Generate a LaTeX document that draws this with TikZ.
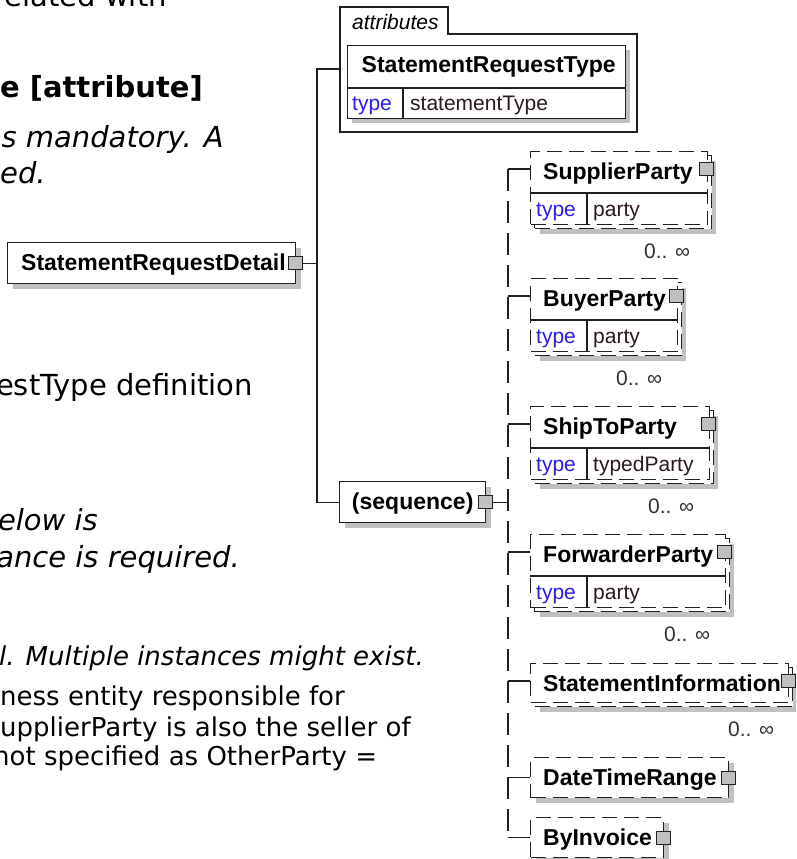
\documentclass[tikz,border=0pt]{standalone}
\usepackage{fontspec}
\newfontfamily\docfont{DejaVu Sans}
\newfontfamily\diafont{Liberation Sans}
\definecolor{boxc}{HTML}{202020}
\definecolor{shadc}{HTML}{C0C0C0}
\definecolor{connc}{HTML}{C0C0C0}
\definecolor{typec}{HTML}{2A1EE8}
\definecolor{valc}{HTML}{2A1A1A}
\definecolor{multc}{HTML}{303030}
\begin{document}
\begin{tikzpicture}[x=1pt,y=-1pt,
  doc/.style={inner sep=0pt, text=black, font=\docfont\fontsize{29}{34}\selectfont},
  docb/.style={inner sep=0pt, text=black, font=\docfont\bfseries\fontsize{29}{34}\selectfont},
  doci/.style={inner sep=0pt, text=black, font=\docfont\itshape\fontsize{29}{34}\selectfont},
  docsm/.style={inner sep=0pt, text=black, font=\docfont\fontsize{26}{31}\selectfont},
  docsmi/.style={inner sep=0pt, text=black, font=\docfont\itshape\fontsize{26}{31}\selectfont},
  sbox/.style={draw=boxc, line width=1.4pt, fill=white, inner sep=0pt, anchor=north west},
  obox/.style={sbox, dash pattern=on 15pt off 7pt},
  shad/.style={fill=shadc},
  sepl/.style={draw=boxc, line width=1.4pt},
  frame/.style={draw=boxc, line width=1.3pt},
  wire/.style={draw=boxc, line width=1.4pt},
  dwire/.style={wire, dash pattern=on 22pt off 10pt},
  nm/.style={inner sep=0pt, text=black, font=\diafont\bfseries\fontsize{23}{27}\selectfont},
  tk/.style={inner sep=0pt, text=typec, font=\diafont\fontsize{21}{25}\selectfont},
  tv/.style={inner sep=0pt, text=valc, font=\diafont\fontsize{21}{25}\selectfont},
  attl/.style={inner sep=0pt, text=black, font=\diafont\itshape\fontsize{21}{25}\selectfont},
  mult/.style={inner sep=0pt, text=multc, font=\diafont\fontsize{21}{25}\selectfont},
  conn/.style={draw=boxc, fill=connc, line width=1.1pt, minimum width=14pt, minimum height=13pt, inner sep=0pt}
]
\useasboundingbox (0,0) rectangle (796,859);
\clip (0,0) rectangle (796,859);

% ---- left documentation text (cut at the left edge) ----
\node[doc, anchor=base east] (t1) at (167,7) {elated with};
\node[docb, anchor=base east] (t2) at (203,97) {e [attribute]};
\node[doci, anchor=base east] (t3) at (224,147) {s mandatory. A};
\node[doci, anchor=base west] (t4) at (0,183) {ed.};
\node[doc, anchor=base east] (t5) at (253,395) {estType definition};
\node[doci, anchor=base east] (t6) at (98,530) {elow is};
\node[doci, anchor=base east] (t7) at (240,567) {ance is required.};
\node[docsmi, anchor=base west] (t8) at (-1,665) {l. Multiple instances might exist.};
\node[docsm, anchor=base west] (t9) at (0,705) {ness entity responsible for};
\node[docsm, anchor=base west] (t10) at (0,736) {upplierParty is also the seller of};
\node[docsm, anchor=base west] (t11) at (-7,765) {not specified as OtherParty =};

% ---- StatementRequestDetail ----
\fill[shad] (13,248) rectangle (301,289);
\node[sbox, minimum width=288pt, minimum height=41pt] (srd) at (7,242) {};
\node[nm, anchor=base west] (srdn) at ([xshift=14pt,yshift=-28pt]srd.north west) {StatementRequestDetail};
\node[conn] (srdc) at ([xshift=-1pt]srd.east) {};

% ---- attributes frame ----
\draw[frame] (340,132) -- (340,7) -- (448,7) -- (448,34) -- (637,34) -- (637,132) -- cycle;
\node[attl, anchor=base west] (attlab) at (352,30) {attributes};
\fill[shad] (352,50) rectangle (630,123);
\node[sbox, minimum width=278pt, minimum height=73pt] (srt) at (347,45) {};
\draw[sepl] ([yshift=-43pt]srt.north west) -- ([yshift=-43pt]srt.north east);
\draw[sepl] ([xshift=56pt,yshift=-43pt]srt.north west) -- ([xshift=56pt]srt.south west);
\node[nm, anchor=base] (srtn) at ([xshift=2pt,yshift=-28pt]srt.north) {StatementRequestType};
\node[tk, anchor=base west] (srtk) at ([xshift=5pt,yshift=9pt]srt.south west) {type};
\node[tv, anchor=base west] (srtv) at ([xshift=63pt,yshift=9pt]srt.south west) {statementType};

% ---- sequence ----
\fill[shad] (345,487) rectangle (491,528);
\node[sbox, minimum width=146pt, minimum height=41pt] (seq) at (339,481) {};
\node[nm, anchor=base] (seqn) at ([yshift=-28pt]seq.north) {(sequence)};
\node[conn] (seqc) at ([xshift=-1pt]seq.east) {};

% ---- SupplierParty ----
\fill[shad] (540,161) rectangle (716,234);
\node[obox, minimum width=177pt, minimum height=73pt] (spb) at (534,155) {};
\node[obox, minimum width=177pt, minimum height=73pt] (sp) at (530,151) {};
\draw[sepl] ([yshift=-42pt]sp.north west) -- ([yshift=-42pt]sp.north east);
\draw[sepl] ([xshift=57pt,yshift=-42pt]sp.north west) -- ([xshift=57pt]sp.south west);
\node[nm, anchor=base west] (spn) at ([xshift=13pt,yshift=-28pt]sp.north west) {SupplierParty};
\node[tk, anchor=base west] (spk) at ([xshift=6pt,yshift=9pt]sp.south west) {type};
\node[tv, anchor=base west] (spv) at ([xshift=63pt,yshift=9pt]sp.south west) {party};
\node[conn] (spc) at ([xshift=-2pt,yshift=-18pt]sp.north east) {};
\node[mult, anchor=base east] (spm) at ([xshift=-18pt,yshift=-33pt]sp.south east) {0.. ∞};

% ---- BuyerParty ----
\fill[shad] (540,288) rectangle (686,361);
\node[obox, minimum width=147pt, minimum height=73pt] (bpb) at (534,282) {};
\node[obox, minimum width=147pt, minimum height=73pt] (bp) at (530,278) {};
\draw[sepl] ([yshift=-42pt]bp.north west) -- ([yshift=-42pt]bp.north east);
\draw[sepl] ([xshift=57pt,yshift=-42pt]bp.north west) -- ([xshift=57pt]bp.south west);
\node[nm, anchor=base west] (bpn) at ([xshift=13pt,yshift=-28pt]bp.north west) {BuyerParty};
\node[tk, anchor=base west] (bpk) at ([xshift=6pt,yshift=9pt]bp.south west) {type};
\node[tv, anchor=base west] (bpv) at ([xshift=63pt,yshift=9pt]bp.south west) {party};
\node[conn] (bpc) at ([xshift=-2pt,yshift=-18pt]bp.north east) {};
\node[mult, anchor=base east] (bpm) at ([xshift=-16pt,yshift=-33pt]bp.south east) {0.. ∞};

% ---- ShipToParty ----
\fill[shad] (540,416) rectangle (718,489);
\node[obox, minimum width=179pt, minimum height=73pt] (stpb) at (534,410) {};
\node[obox, minimum width=179pt, minimum height=73pt] (stp) at (530,406) {};
\draw[sepl] ([yshift=-42pt]stp.north west) -- ([yshift=-42pt]stp.north east);
\draw[sepl] ([xshift=57pt,yshift=-42pt]stp.north west) -- ([xshift=57pt]stp.south west);
\node[nm, anchor=base west] (stpn) at ([xshift=13pt,yshift=-28pt]stp.north west) {ShipToParty};
\node[tk, anchor=base west] (stpk) at ([xshift=6pt,yshift=9pt]stp.south west) {type};
\node[tv, anchor=base west] (stpv) at ([xshift=63pt,yshift=9pt]stp.south west) {typedParty};
\node[conn] (stpc) at ([xshift=-2pt,yshift=-18pt]stp.north east) {};
\node[mult, anchor=base east] (stpm) at ([xshift=-16pt,yshift=-33pt]stp.south east) {0.. ∞};

% ---- ForwarderParty ----
\fill[shad] (540,544) rectangle (734,617);
\node[obox, minimum width=195pt, minimum height=73pt] (fpb) at (534,538) {};
\node[obox, minimum width=195pt, minimum height=73pt] (fp) at (530,534) {};
\draw[sepl] ([yshift=-42pt]fp.north west) -- ([yshift=-42pt]fp.north east);
\draw[sepl] ([xshift=57pt,yshift=-42pt]fp.north west) -- ([xshift=57pt]fp.south west);
\node[nm, anchor=base west] (fpn) at ([xshift=13pt,yshift=-28pt]fp.north west) {ForwarderParty};
\node[tk, anchor=base west] (fpk) at ([xshift=6pt,yshift=9pt]fp.south west) {type};
\node[tv, anchor=base west] (fpv) at ([xshift=63pt,yshift=9pt]fp.south west) {party};
\node[conn] (fpc) at ([xshift=-2pt,yshift=-18pt]fp.north east) {};
\node[mult, anchor=base east] (fpm) at ([xshift=-16pt,yshift=-33pt]fp.south east) {0.. ∞};

% ---- StatementInformation ----
\fill[shad] (540,673) rectangle (797,712);
\node[obox, minimum width=258pt, minimum height=39pt] (sib) at (534,667) {};
\node[obox, minimum width=258pt, minimum height=39pt] (si) at (530,663) {};
\node[nm, anchor=base west] (sin) at ([xshift=13pt,yshift=-28pt]si.north west) {StatementInformation};
\node[conn] (sic) at ([xshift=-1pt,yshift=-18pt]si.north east) {};
\node[mult, anchor=base east] (sim) at ([xshift=-15pt,yshift=-33pt]si.south east) {0.. ∞};

% ---- DateTimeRange ----
\fill[shad] (536,763) rectangle (734,803);
\node[obox, minimum width=198pt, minimum height=40pt] (dtr) at (530,757) {};
\node[nm, anchor=base west] (dtrn) at ([xshift=13pt,yshift=-28pt]dtr.north west) {DateTimeRange};
\node[conn] (dtrc) at ([xshift=-1pt]dtr.east) {};

% ---- ByInvoice ----
\fill[shad] (536,823) rectangle (669,863);
\node[obox, minimum width=133pt, minimum height=40pt] (bi) at (530,817) {};
\node[nm, anchor=base west] (bin) at ([xshift=13pt,yshift=-28pt]bi.north west) {ByInvoice};
\node[conn] (bic) at ([xshift=-1pt]bi.east) {};

% ---- connectors ----
\coordinate (ja) at (317,69);
\coordinate (attrw) at (340,69);
\coordinate (vt) at (508,169);
\draw[wire] (srdc.east) -- (srdc.east -| ja);
\draw[wire] (attrw) -- (ja) -- (ja |- seq.west) -- (seq.west);
\draw[wire] (seqc.east) -- (seqc.east -| vt);
\draw[dwire] (vt) -- (vt |- bic);
\draw[wire] (vt) -- (vt -| sp.west);
\draw[wire] (vt |- bpc) -- (bp.west |- bpc);
\draw[wire] (vt |- stpc) -- (stp.west |- stpc);
\draw[wire] (vt |- fpc) -- (fp.west |- fpc);
\draw[wire] (vt |- sic) -- (si.west |- sic);
\draw[wire] (vt |- dtrc) -- (dtr.west |- dtrc);
\draw[wire] (vt |- bic) -- (bi.west |- bic);
\end{tikzpicture}
\end{document}
